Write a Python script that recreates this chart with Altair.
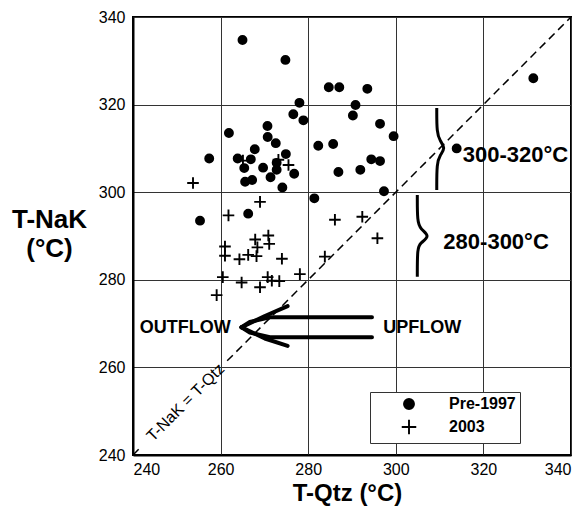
import altair as alt
import pandas as pd

# ---- data ----
pre1997_x = [265.0, 274.8, 331.4, 284.7, 287.1, 293.5, 278.0, 290.8, 276.6, 290.2, 278.9, 296.4,
             261.9, 270.7, 299.5, 270.75, 282.3, 285.7, 272.6, 267.8, 257.4, 263.9, 266.9, 274.9,
             294.4, 296.4, 313.9, 265.4, 269.7, 272.8, 272.8, 286.9, 291.9, 276.8, 265.6, 267.2,
             271.4, 274.1, 297.3, 281.4, 266.3, 255.3]
pre1997_y = [334.75, 330.2, 326.0, 323.95, 323.95, 323.6, 320.4, 319.9, 317.8, 317.5, 316.4, 315.6,
             313.5, 315.1, 312.8, 312.6, 310.6, 311.0, 311.2, 309.8, 307.7, 307.7, 307.5, 308.7,
             307.5, 307.1, 310.0, 305.5, 305.6, 306.7, 305.1, 304.6, 305.1, 304.2, 302.4, 302.8,
             303.4, 301.1, 300.2, 298.6, 295.1, 293.5]

y2003_x = [253.7, 265.1, 273.2, 275.5, 269.0, 261.8, 267.9, 270.9, 271.1, 268.4, 261.0, 261.0,
           266.3, 264.3, 268.2, 274.0, 260.5, 264.8, 270.75, 271.7, 273.4, 278.1, 269.0, 259.1,
           286.1, 292.35, 295.8, 283.8]
y2003_y = [302.1, 307.2, 307.4, 306.2, 297.8, 294.7, 289.2, 290.1, 288.2, 287.4, 287.6, 285.5,
           285.7, 284.7, 285.4, 284.8, 280.6, 279.4, 280.6, 279.8, 279.7, 281.3, 278.3, 276.5,
           293.7, 294.4, 289.5, 285.3]

series_names = ["Pre-1997", "2003"]
ticks = [240, 260, 280, 300, 320, 340]

# 1:1 line (broken where its label sits)
diag_x = [240, 242, 261.5, 340]
diag_y = [240, 242, 261.5, 340]
diag_seg = ["a", "a", "b", "b"]

# double arrow (OUTFLOW <= UPFLOW)
arrow_x = [275.3, 270.10, 264.78,
           294.56, 271.25, 266.67, 264.78,
           294.56, 271.25, 266.67, 264.78,
           275.3, 270.10, 264.78]
arrow_y = [274.0, 271.74, 269.16,
           271.44, 271.44, 270.37, 269.16,
           266.87, 266.87, 267.95, 269.16,
           264.9, 266.6, 269.16]
arrow_seg = ["h1"] * 3 + ["s1"] * 4 + ["s2"] * 4 + ["h2"] * 3

# braces
brace_x = [309.35, 309.35, 309.35, 310.1, 311.35, 310.1, 309.35, 309.35, 309.35,
           304.91, 304.91, 304.91, 305.6, 307.9, 305.6, 304.91, 304.91, 304.91]
brace_y = [319.22, 319.22, 313.52, 311.69, 310.09, 308.49, 306.67, 300.5, 300.5,
           299.36, 299.36, 293.26, 291.6, 290.0, 288.4, 287.26, 280.71, 280.71]
brace_seg = ["b1"] * 9 + ["b2"] * 9

# text annotations
note_text = ["OUTFLOW", "UPFLOW", "300-320°C", "280-300°C"]
note_x = [241.55, 297.14, 315.29, 310.86]
note_y = [268.9, 268.9, 308.5, 288.7]
note_size = [18, 18, 22, 22]

diag_label = "T-NaK = T-Qtz"
diag_label_x = [252.0]
diag_label_y = [252.0]

# ---- build tables ----
pts = pd.DataFrame({
    "x": pre1997_x + y2003_x,
    "y": pre1997_y + y2003_y,
    "series": [series_names[0]] * len(pre1997_x) + [series_names[1]] * len(y2003_x),
})
diag = pd.DataFrame({"x": diag_x, "y": diag_y, "seg": diag_seg})
arrow = pd.DataFrame({"x": arrow_x, "y": arrow_y, "seg": arrow_seg,
                      "o": list(range(len(arrow_x)))})
brace = pd.DataFrame({"x": brace_x, "y": brace_y, "seg": brace_seg,
                      "o": list(range(len(brace_x)))})
notes = pd.DataFrame({"x": note_x, "y": note_y, "t": note_text, "s": note_size})
dlab = pd.DataFrame({"x": diag_label_x, "y": diag_label_y, "t": [diag_label]})

FONT = "Liberation Sans"

xs = alt.Scale(domain=[240, 340], nice=False, zero=False)
ys = alt.Scale(domain=[240, 340], nice=False, zero=False)
xaxis = alt.Axis(values=ticks, title="T-Qtz (°C)", titleFontSize=24, titleY=45, titleX=214,
                 titleBaseline="alphabetic", labelPadding=6)
yaxis = alt.Axis(values=ticks, title=["T-NaK", "(°C)"], titleFontSize=26, titleAngle=0,
                 titleAlign="center", titleBaseline="middle", titleX=-84, titleY=202,
                 titleLineHeight=29, labelPadding=8)
X = alt.X("x:Q", scale=xs, axis=xaxis)
Y = alt.Y("y:Q", scale=ys, axis=yaxis)

diag_layer = alt.Chart(diag).mark_line(color="black", strokeWidth=1.5,
                                       strokeDash=[8, 5]).encode(x=X, y=Y, detail="seg:N")

arrow_layer = alt.Chart(arrow).mark_line(color="black", strokeWidth=4, strokeCap="round",
                                         strokeJoin="round").encode(
    x=X, y=Y, detail="seg:N", order="o:Q")

brace_layer = alt.Chart(brace).mark_line(color="black", strokeWidth=3,
                                         interpolate="basis").encode(
    x=X, y=Y, detail="seg:N", order="o:Q")

plus_path = "M-1.45,0L1.45,0M0,-1.45L0,1.45"
blk = alt.Scale(domain=series_names, range=["black", "black"])
pts_layer = alt.Chart(pts).mark_point(filled=True, strokeWidth=1.9, size=64, opacity=1).encode(
    x=X, y=Y,
    shape=alt.Shape("series:N", title=None,
                    scale=alt.Scale(domain=series_names, range=["circle", plus_path]),
                    sort=series_names),
    fill=alt.Fill("series:N", title=None, scale=blk, sort=series_names),
    stroke=alt.Stroke("series:N", title=None, scale=blk, sort=series_names),
)

notes_layer = alt.Chart(notes).mark_text(font=FONT, fontWeight="bold", align="left",
                                         baseline="middle", color="black").encode(
    x=X, y=Y, text="t:N", size=alt.Size("s:Q", scale=None, legend=None))

dlab_layer = alt.Chart(dlab).mark_text(font=FONT, fontSize=16, angle=315, align="center",
                                       baseline="middle", color="black").encode(
    x=X, y=Y, text="t:N")

chart = alt.layer(diag_layer, arrow_layer, brace_layer, pts_layer, notes_layer, dlab_layer).properties(
    width=438, height=438,
    autosize=alt.AutoSizeParams(type="none"),
    padding={"left": 133, "top": 17, "right": 16, "bottom": 52},
).configure_view(
    stroke="black", strokeWidth=2
).configure_axis(
    domainColor="black", domainWidth=2, gridColor="#333", gridWidth=1, ticks=False,
    labelFont=FONT, labelFontSize=16, labelColor="black",
    titleFont=FONT, titleFontWeight="bold", titleColor="black",
).configure_legend(
    orient="none", legendX=237, legendY=375, padding=4, strokeColor="#333",
    fillColor="white", strokeWidth=1, symbolOffset=27, labelOffset=32,
    labelFont=FONT, labelFontSize=16, labelFontWeight="bold", labelColor="black",
    rowPadding=2, symbolSize=100, symbolStrokeWidth=1.9,
)

chart.save("out.html", embed_options={"renderer": "svg", "actions": False})
